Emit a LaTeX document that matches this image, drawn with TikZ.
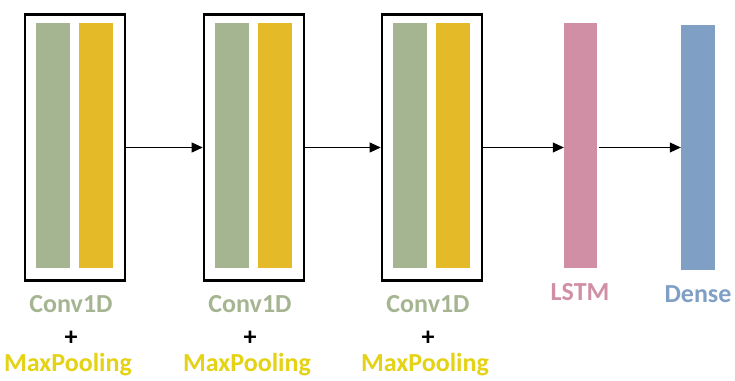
\documentclass[tikz,border=0pt]{standalone}
\usepackage{fontspec}
\setmainfont{Carlito}
\usetikzlibrary{arrows.meta}
\definecolor{cgreen}{RGB}{165,180,145}
\definecolor{cyellow}{RGB}{229,186,40}
\definecolor{tyellow}{RGB}{228,210,20}
\definecolor{cpink}{RGB}{209,143,165}
\definecolor{cblue}{RGB}{127,159,196}
\tikzset{
  frame/.style={draw=black, line width=2.6pt, minimum width=100pt, minimum height=266pt, inner sep=0pt},
  bar/.style={minimum width=34pt, minimum height=245pt, inner sep=0pt},
  conn/.style={line width=0.8pt, -{Triangle[length=11pt,width=10pt]}},
  lbl/.style={font=\fontsize{26}{28}\selectfont\bfseries, inner sep=0pt, anchor=center}
}
\begin{document}
\begin{tikzpicture}[x=1pt,y=-1pt]
\useasboundingbox (0,0) rectangle (735,380);
% blocks
\foreach \i/\x in {1/75,2/254,3/432}{
  \node[frame] (f\i) at (\x,147.5) {};
  \node[bar, fill=cgreen] (g\i) at (\x-22,145) {};
  \node[bar, fill=cyellow] (y\i) at (\x+21,145) {};
  \node[lbl, text=cgreen] (c\i) at (\x-4,304) {Conv1D};
  \node[lbl, text=black] (p\i) at (\x-4,338) {+};
  \node[lbl, text=tyellow] (m\i) at (\x-7,365) {MaxPooling};
}
\node[bar, fill=cpink, minimum width=33pt] (lstm) at (580.5,145.5) {};
\node[bar, fill=cblue, minimum width=34pt] (dense) at (698,147) {};
\node[lbl, text=cpink] (tl) at (580,292) {LSTM};
\node[lbl, text=cblue] (td) at (698,294) {Dense};
% connectors
\draw[conn] (f1.east) -- (f2.west);
\draw[conn] (f2.east) -- (f3.west);
\draw[conn] (f3.east) -- (f3.east -| lstm.west);
\draw[conn] ([xshift=2pt]f3.east -| lstm.east) -- (f3.east -| dense.west);
\end{tikzpicture}
\end{document}
